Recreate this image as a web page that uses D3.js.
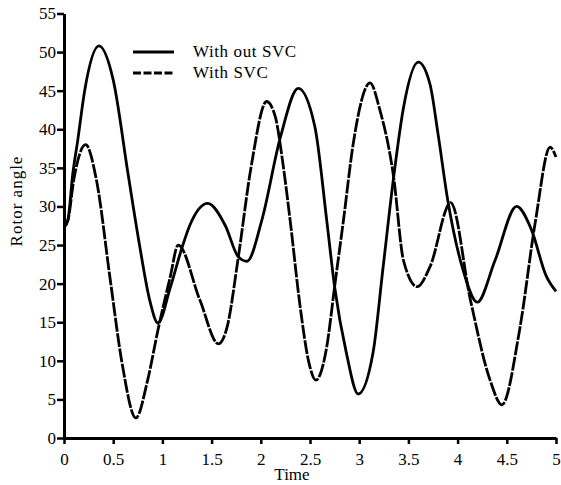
<!DOCTYPE html>
<html>
<head>
<meta charset="utf-8">
<script src="https://cdn.jsdelivr.net/npm/d3@7"></script>
<style>
  body { margin: 0; background: #fff; }
  svg { display: block; }
</style>
</head>
<body>
<div id="chart"></div>
<script>
// Rotor angle without SVC (solid)
const withoutSvcT = [0, 0.04, 0.09, 0.14, 0.21, 0.355, 0.5, 0.65, 0.77, 0.87, 0.955, 1.08, 1.2, 1.28, 1.46,
  1.64, 1.77, 1.86, 2.01, 2.2, 2.38, 2.55, 2.67, 2.75, 2.87, 2.99, 3.14, 3.24, 3.35, 3.45, 3.6,
  3.72, 3.8, 3.9, 4.05, 4.2, 4.38, 4.6, 4.75, 4.9, 5];
const withoutSvcV = [27.3, 28.3, 34.3, 38.6, 45, 50.8, 46.4, 34.3, 24.8, 17.9, 14.9, 19.5, 24.7, 27.6, 30.4,
  27.5, 23.5, 22.9, 28.2, 39, 45.3, 40.3, 28.2, 19.6, 11, 5.7, 11, 21.8, 33.8, 42.8, 48.7,
  45.8, 39.5, 30.8, 22, 17.6, 23, 30, 27, 21, 19];

// Rotor angle with SVC (dashed)
const withSvcT = [0, 0.04, 0.1, 0.22, 0.33, 0.47, 0.59, 0.73, 0.85, 0.955, 1.08, 1.16, 1.38, 1.57, 1.66,
  1.77, 1.9, 2.06, 2.15, 2.22, 2.3, 2.4, 2.49, 2.56, 2.67, 2.75, 2.84, 2.94, 3.11, 3.21, 3.35,
  3.45, 3.59, 3.72, 3.93, 4.13, 4.33, 4.45, 4.63, 4.79, 4.94, 5];
const withSvcV = [27.3, 28.2, 33.5, 38, 33.4, 20.5, 9.7, 2.6, 7.5, 14, 20.9, 25, 17.9, 12.2, 14.5,
  23.3, 35, 43.6, 41.5, 36, 28, 17, 9.7, 7.5, 11.8, 19.6, 28.2, 38.2, 46, 42.5, 33.8,
  23, 19.6, 22.2, 30.5, 17.9, 7.5, 4.3, 14, 28, 37.7, 36.4];

const xTicks = [0, 0.5, 1, 1.5, 2, 2.5, 3, 3.5, 4, 4.5, 5];
const yTicks = [0, 5, 10, 15, 20, 25, 30, 35, 40, 45, 50, 55];
const seriesNames = ["With out SVC", "With SVC"];

const FONT = '"Liberation Serif", "Times New Roman", Times, serif';
const width = 561, height = 485;
const margin = { top: 13.5, right: 5, bottom: 47, left: 64 };

const svg = d3.select("#chart").append("svg")
    .attr("width", width)
    .attr("height", height)
    .style("font-family", FONT);

const x = d3.scaleLinear().domain([0, 5]).range([margin.left, width - margin.right]);
const y = d3.scaleLinear().domain([0, 55]).range([height - margin.bottom, margin.top]);

// Curves
const line = d3.line()
    .x(d => x(d[0]))
    .y(d => y(d[1]))
    .curve(d3.curveMonotoneX);

const solidData = withoutSvcT.map((t, i) => [t, withoutSvcV[i]]);
const dashedData = withSvcT.map((t, i) => [t, withSvcV[i]]);

svg.append("path")
    .datum(dashedData)
    .attr("d", line)
    .attr("fill", "none")
    .attr("stroke", "#000")
    .attr("stroke-width", 2.8)
    .attr("stroke-dasharray", "14,1.5");

svg.append("path")
    .datum(solidData)
    .attr("d", line)
    .attr("fill", "none")
    .attr("stroke", "#000")
    .attr("stroke-width", 2.8);

// Axes
const xAxis = svg.append("g")
    .attr("transform", `translate(0,${y(0)})`)
    .call(d3.axisBottom(x).tickValues(xTicks).tickFormat(d3.format("")).tickSize(6).tickSizeOuter(0));
const yAxis = svg.append("g")
    .attr("transform", `translate(${x(0)},0)`)
    .call(d3.axisLeft(y).tickValues(yTicks).tickSize(7).tickSizeOuter(0));

[xAxis, yAxis].forEach(g => {
    g.attr("font-family", null);
    g.select(".domain").attr("stroke", "#000").attr("stroke-width", 3);
    g.selectAll(".tick line").attr("stroke", "#000").attr("stroke-width", 2.5);
    g.selectAll(".tick text")
        .style("font-family", FONT)
        .style("font-size", "17px")
        .attr("fill", "#000");
});
xAxis.selectAll(".tick text").attr("dy", "1.05em");
yAxis.selectAll(".tick text").attr("x", -8);

// Axis titles
svg.append("text")
    .attr("x", 292)
    .attr("y", 480)
    .attr("text-anchor", "middle")
    .style("font-family", FONT)
    .style("font-size", "17px")
    .text("Time");

svg.append("text")
    .attr("transform", "translate(22,201) rotate(-90)")
    .attr("text-anchor", "middle")
    .style("font-family", FONT)
    .style("font-size", "17px")
    .attr("letter-spacing", 1)
    .text("Rotor angle");

// Legend
const legend = svg.append("g");
seriesNames.forEach((name, i) => {
    const ly = 52 + i * 21;
    legend.append("line")
        .attr("x1", 133).attr("x2", 174)
        .attr("y1", ly).attr("y2", ly)
        .attr("stroke", "#000")
        .attr("stroke-width", 2.8)
        .attr("stroke-dasharray", i === 0 ? null : "8,2.5");
    legend.append("text")
        .attr("x", 193)
        .attr("y", ly + 5)
        .style("font-family", FONT)
        .style("font-size", "17px")
        .attr("letter-spacing", 0.6)
        .text(name);
});
</script>
</body>
</html>
